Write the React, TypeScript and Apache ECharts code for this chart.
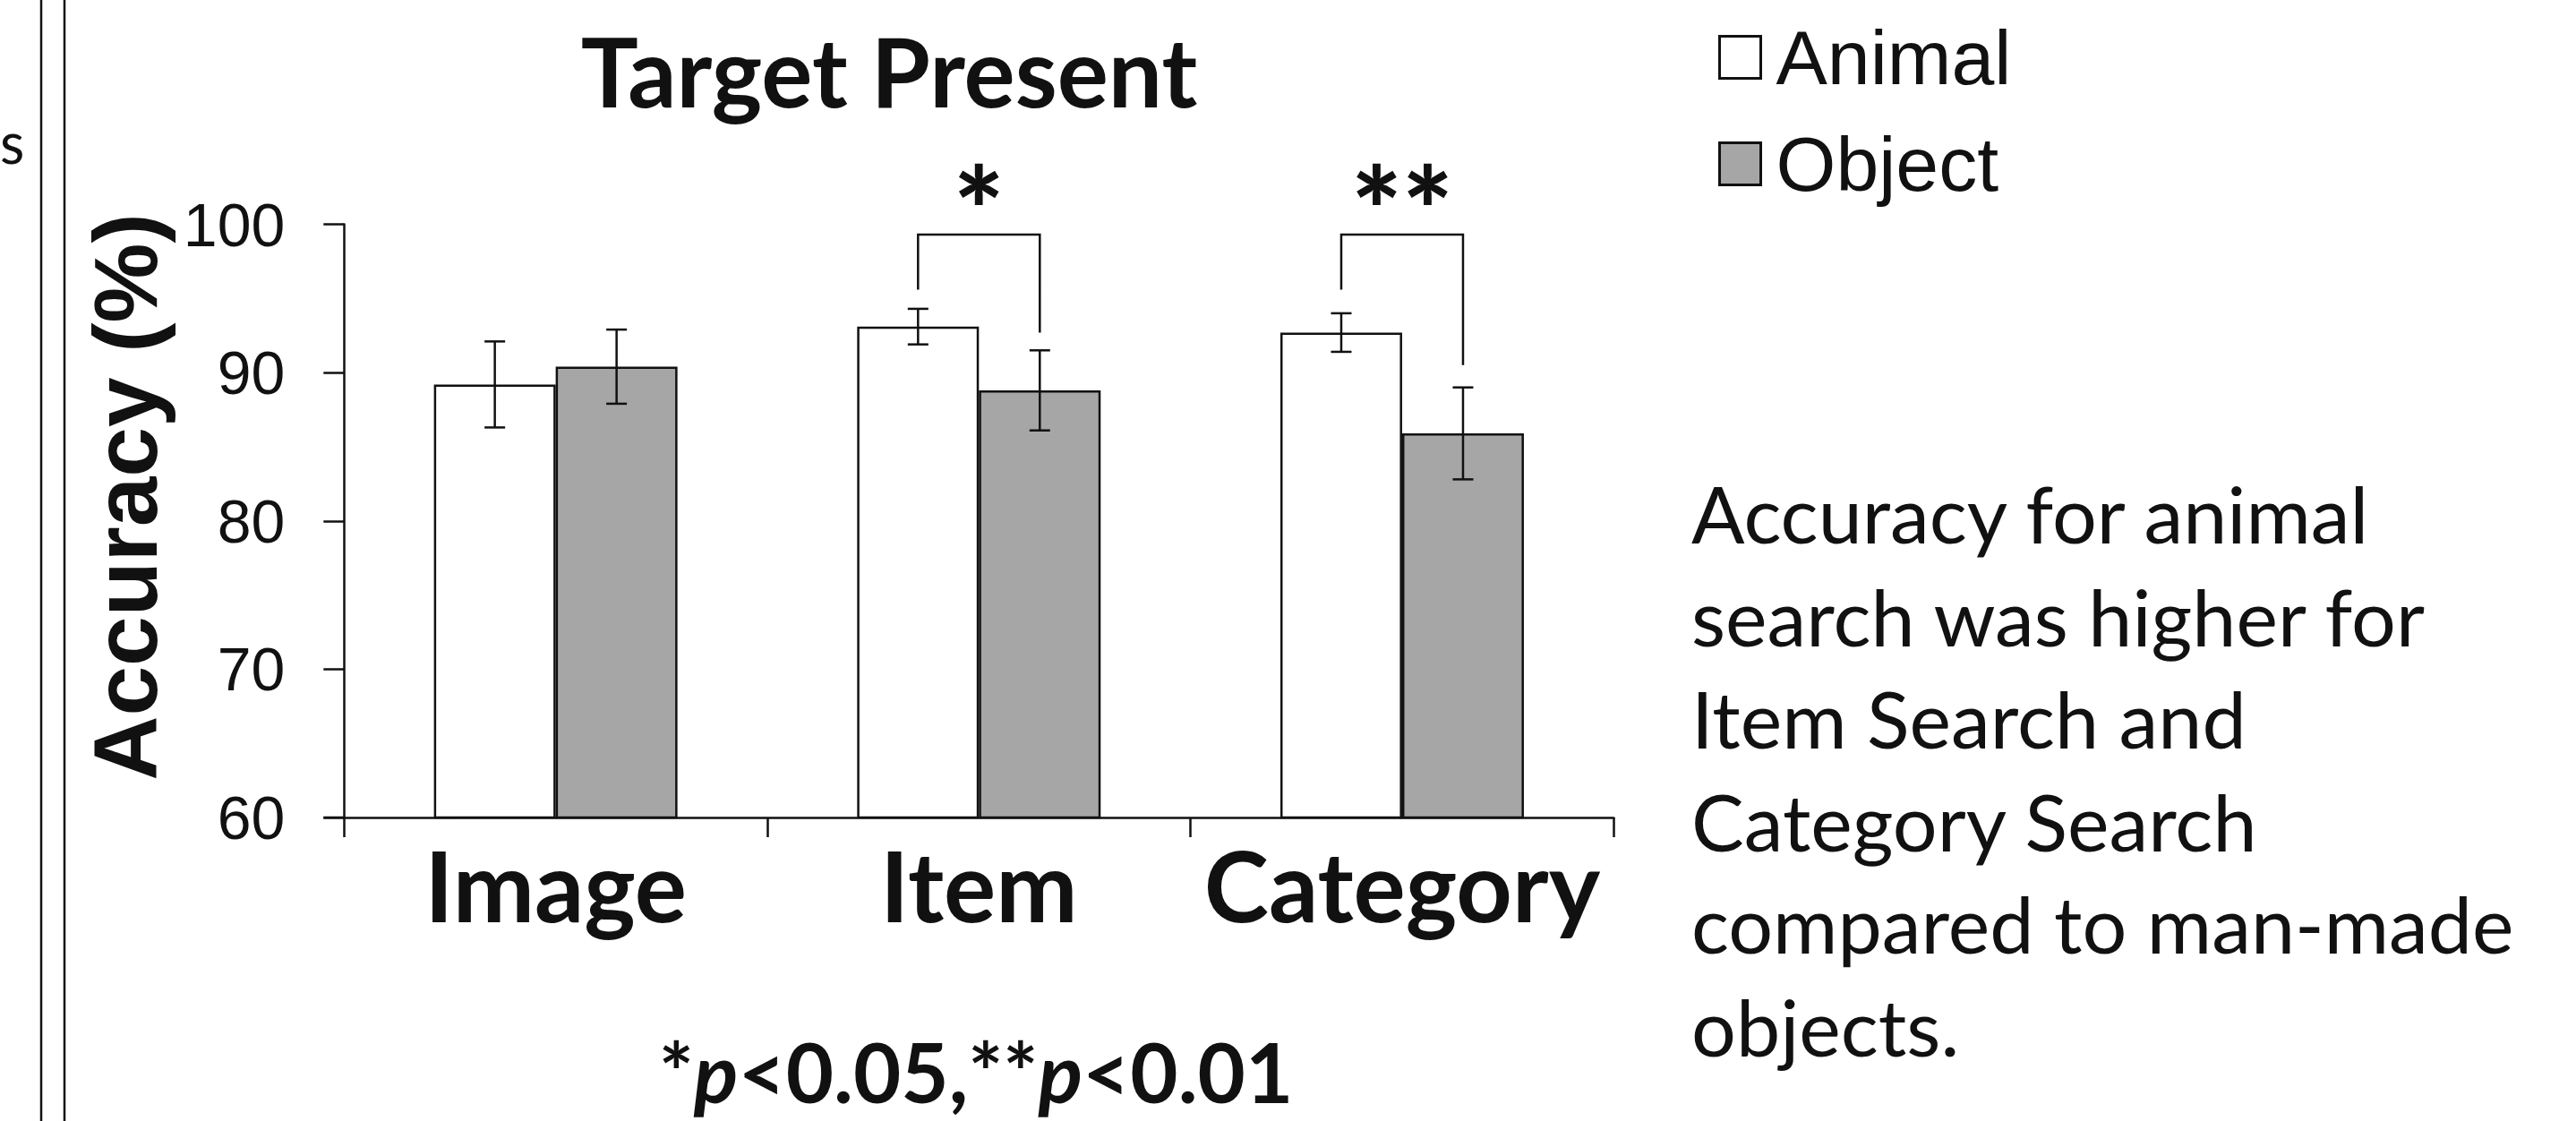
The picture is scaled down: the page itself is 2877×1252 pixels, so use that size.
import React, { useEffect, useRef } from "react";
import * as echarts from "echarts";

// ---------- data ----------
const categories = ["Image", "Item", "Category"];
const seriesNames = ["Animal", "Object"];
const animalValues = [89.2, 93.1, 92.7];
const animalErrors = [2.9, 1.2, 1.3];
const objectValues = [90.4, 88.8, 85.9];
const objectErrors = [2.5, 2.7, 3.1];
const yMin = 60;
const yMax = 100;
const yInterval = 10;
// significance brackets (value units): top of bracket, end of left leg, end of right leg
const sigLabels = ["", "*", "**"];
const bracketTop = [0, 99.3, 99.3];
const bracketLeftEnd = [0, 95.6, 95.6];
const bracketRightEnd = [0, 92.7, 90.5];
const titleText = "Target Present";
const yAxisTitle = "Accuracy (%)";
const noteLines = [
  "Accuracy for animal",
  "search was higher for",
  "Item Search and",
  "Category Search",
  "compared to man-made",
  "objects.",
];

// ---------- style constants ----------
const INK = "#111111";
const GRAY = "#a6a6a6";
const BAR_FRAC = 0.2877;
const CAP = 23;
const LW = 2.5;

export default function App() {
  const ref = useRef<HTMLDivElement | null>(null);

  useEffect(() => {
    if (!ref.current) return;
    const chart = echarts.init(ref.current, null, { renderer: "svg" });

    const errRender = (sign: number, withAxisExt: boolean) => (params: any, api: any) => {
      const ci = api.value(0);
      const v = api.value(1);
      const e = api.value(2);
      const band = api.size([1, 0])[0];
      const bw = band * BAR_FRAC;
      const c = api.coord([ci, v]);
      const x = c[0] + (sign * bw) / 2;
      const yT = api.coord([ci, v + e])[1];
      const yB = api.coord([ci, v - e])[1];
      const style = { stroke: INK, lineWidth: LW };
      const children: any[] = [
        { type: "line", shape: { x1: x, y1: yT, x2: x, y2: yB }, style },
        { type: "line", shape: { x1: x - CAP / 2, y1: yT, x2: x + CAP / 2, y2: yT }, style },
        { type: "line", shape: { x1: x - CAP / 2, y1: yB, x2: x + CAP / 2, y2: yB }, style },
      ];
      if (withAxisExt && params.dataIndex === 0) {
        const o = api.coord([ci, yMin]);
        const x0 = o[0] - band / 2;
        children.push({
          type: "line",
          shape: { x1: x0 - 23, y1: o[1], x2: x0, y2: o[1] },
          style,
        });
      }
      return { type: "group", children };
    };

    const bracketIdx = categories.map((_, i) => i).filter((i) => sigLabels[i] !== "");
    const bracketData = bracketIdx.map((i) => [i, bracketTop[i], bracketLeftEnd[i], bracketRightEnd[i]]);

    const bracketRender = (params: any, api: any) => {
      const ci = api.value(0);
      const top = api.value(1);
      const le = api.value(2);
      const re = api.value(3);
      const band = api.size([1, 0])[0];
      const bw = band * BAR_FRAC;
      const p = api.coord([ci, top]);
      const xl = p[0] - bw / 2;
      const xr = p[0] + bw / 2;
      const yl = api.coord([ci, le])[1];
      const yr = api.coord([ci, re])[1];
      const label = sigLabels[bracketIdx[params.dataIndex]];
      return {
        type: "group",
        children: [
          {
            type: "polyline",
            shape: { points: [[xl, yl], [xl, p[1]], [xr, p[1]], [xr, yr]] },
            style: { stroke: INK, lineWidth: LW, fill: "none" },
          },
          {
            type: "text",
            x: p[0],
            y: p[1] - 30,
            style: {
              text: label,
              fontFamily: "Lato",
              fontWeight: 900,
              fontSize: 134,
              fill: INK,
              align: "center",
              verticalAlign: "middle",
            },
          },
        ],
      };
    };

    const option: any = {
      animation: false,
      backgroundColor: "#ffffff",
      grid: {
        left: 384.3,
        top: 250.5,
        width: 1418,
        height: 662.5,
        containLabel: false,
        outerBoundsMode: "none",
      },
      legend: {
        orient: "vertical",
        left: 1919,
        top: 21,
        padding: 0,
        itemWidth: 46,
        itemHeight: 47,
        itemGap: 33,
        icon: "rect",
        selectedMode: false,
        data: seriesNames,
        itemStyle: { borderColor: INK, borderWidth: 3 },
        textStyle: {
          fontFamily: "Liberation Sans",
          fontSize: 86,
          color: INK,
          padding: [0, 0, 0, 12],
        },
      },
      xAxis: {
        type: "category",
        data: categories,
        boundaryGap: true,
        axisLine: { show: true, lineStyle: { color: INK, width: LW } },
        axisTick: { show: true, length: 22, inside: false, lineStyle: { color: INK, width: LW } },
        axisLabel: {
          interval: 0,
          margin: 20,
          fontFamily: "Lato",
          fontWeight: "bold",
          fontSize: 109,
          color: INK,
        },
        splitLine: { show: false },
      },
      yAxis: {
        type: "value",
        min: yMin,
        max: yMax,
        interval: yInterval,
        axisLine: { show: true, lineStyle: { color: INK, width: LW } },
        axisTick: { show: true, length: 23, inside: false, lineStyle: { color: INK, width: LW } },
        axisLabel: {
          margin: 66,
          fontFamily: "Liberation Sans",
          fontSize: 68,
          color: INK,
        },
        splitLine: { show: false },
      },
      series: [
        {
          name: seriesNames[0],
          type: "bar",
          data: animalValues,
          barWidth: (BAR_FRAC * 100).toFixed(2) + "%",
          barGap: "0%",
          itemStyle: { color: "#ffffff", borderColor: INK, borderWidth: LW },
          emphasis: { disabled: true },
          silent: true,
        },
        {
          name: seriesNames[1],
          type: "bar",
          data: objectValues,
          barWidth: (BAR_FRAC * 100).toFixed(2) + "%",
          barGap: "0%",
          itemStyle: { color: GRAY, borderColor: INK, borderWidth: LW },
          emphasis: { disabled: true },
          silent: true,
        },
        {
          type: "custom",
          name: "errA",
          renderItem: errRender(-1, true),
          data: categories.map((_, i) => [i, animalValues[i], animalErrors[i]]),
          encode: { x: 0, y: 1 },
          z: 5,
          silent: true,
        },
        {
          type: "custom",
          name: "errO",
          renderItem: errRender(1, false),
          data: categories.map((_, i) => [i, objectValues[i], objectErrors[i]]),
          encode: { x: 0, y: 1 },
          z: 5,
          silent: true,
        },
        {
          type: "custom",
          name: "sig",
          renderItem: bracketRender,
          data: bracketData,
          encode: { x: 0, y: 1 },
          z: 5,
          silent: true,
          clip: false,
        },
      ],
      graphic: [
        { type: "line", shape: { x1: 46, y1: 0, x2: 46, y2: 1252 }, style: { stroke: INK, lineWidth: LW } },
        { type: "line", shape: { x1: 72, y1: 0, x2: 72, y2: 1252 }, style: { stroke: INK, lineWidth: LW } },
        {
          type: "text",
          x: 0,
          y: 158,
          style: { text: "s", font: "63px Lato", fill: INK, textAlign: "left", textVerticalAlign: "middle" },
        },
        {
          type: "text",
          x: 140,
          y: 555,
          rotation: Math.PI / 2,
          style: {
            text: yAxisTitle,
            font: "bold 100px 'Liberation Sans'",
            fill: INK,
            textAlign: "center",
            textVerticalAlign: "middle",
          },
        },
        {
          type: "text",
          x: 993,
          y: 78,
          style: {
            text: titleText,
            font: "bold 107px Lato",
            fill: INK,
            textAlign: "center",
            textVerticalAlign: "middle",
          },
        },
        {
          type: "text",
          x: 1090,
          y: 1196,
          style: {
            text: "{b|*}{i|p}{b|<0.05,**}{i|p}{b|<0.01}",
            textAlign: "center",
            textVerticalAlign: "middle",
            rich: {
              b: { fontFamily: "Lato", fontWeight: "bold", fontSize: 92, fill: INK, color: INK },
              i: { fontFamily: "Lato", fontWeight: "bold", fontStyle: "italic", fontSize: 92, fill: INK, color: INK },
            },
          },
        },
        {
          type: "text",
          x: 1889,
          y: 516,
          style: {
            text: noteLines.join("\n"),
            font: "88px Lato",
            fill: INK,
            lineHeight: 114.5,
            textAlign: "left",
            textVerticalAlign: "top",
          },
        },
      ],
    };

    chart.setOption(option);
    return () => chart.dispose();
  }, []);

  return (
    <div
      ref={ref}
      style={{ position: "absolute", left: 0, top: 0, width: 2877, height: 1252, background: "#fff" }}
    />
  );
}
